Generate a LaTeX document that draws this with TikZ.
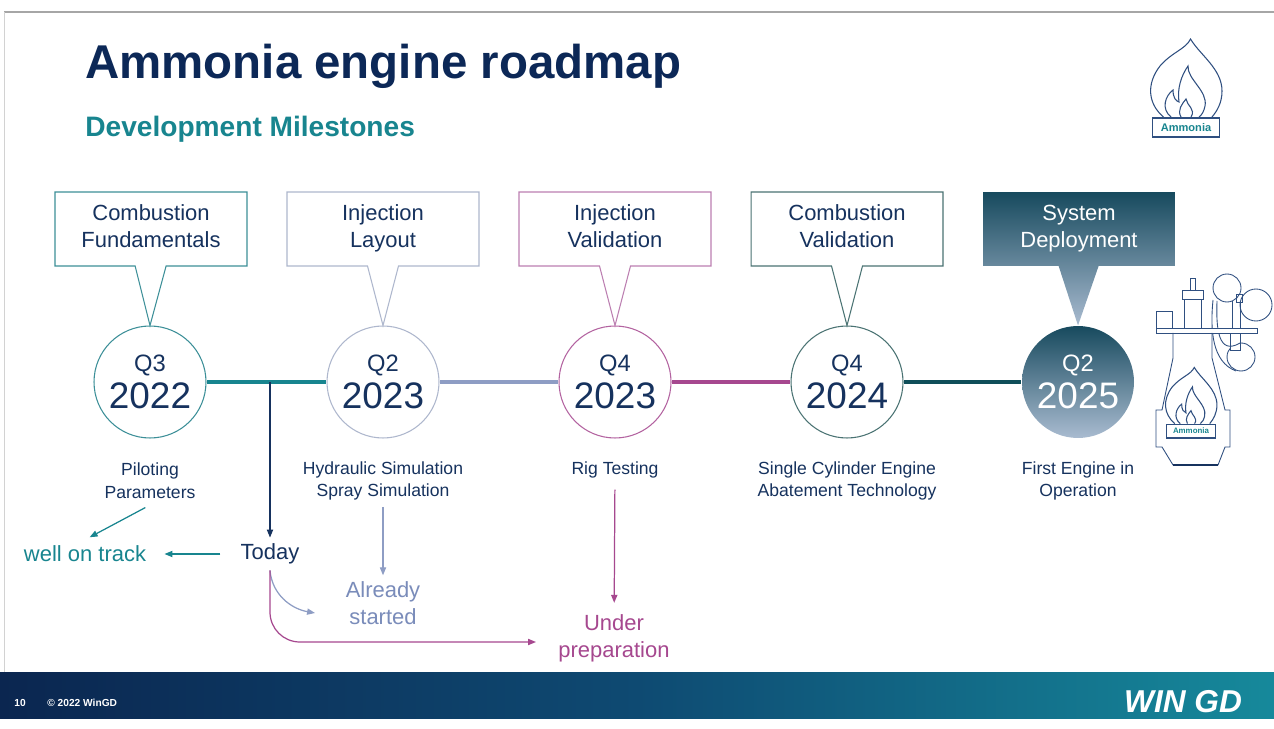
\documentclass[tikz,border=0pt]{standalone}
\usepackage{fontspec}
\setmainfont{Liberation Sans}
\usetikzlibrary{shapes.callouts,arrows.meta}

\definecolor{titleblue}{HTML}{0C2857}
\definecolor{navy}{HTML}{16325E}
\definecolor{petrol}{HTML}{18858F}
\definecolor{petrolbox}{HTML}{3C8F98}
\definecolor{slate}{HTML}{8E9DC4}
\definecolor{slatetext}{HTML}{7A8CBA}
\definecolor{slatebox}{HTML}{AEB7CD}
\definecolor{plum}{HTML}{A6488F}
\definecolor{plumbox}{HTML}{BC7FB1}
\definecolor{pine}{HTML}{0F4E59}
\definecolor{pinebox}{HTML}{4A7373}
\definecolor{deploytop}{HTML}{174A5E}
\definecolor{deploybot}{HTML}{A9BBD0}
\definecolor{footleft}{HTML}{0B2650}
\definecolor{footmid}{HTML}{0E4A72}
\definecolor{footright}{HTML}{16899B}
\definecolor{iconline}{HTML}{2F4F80}

% quarter over year, inside a milestone circle
\newcommand{\qyear}[2]{{\fontsize{13.5}{16}\selectfont #1}\\[2.5pt]{\fontsize{21}{21}\selectfont #2}}
% two lines of a phase box, same height whatever the letters
\newcommand{\phase}[2]{\strut#1\\#2\strut}

% flame over the name plate, origin at the bottom middle of the plate
\newcommand{\flamelogo}[2]{%
  \draw[logo] (-33.5,-19) rectangle (33.5,0);
  \node[text=petrol, font=\fontsize{#1}{#1}\selectfont\bfseries, inner sep=0pt] (#2) at (0,-9.5) {Ammonia};
  \draw[logo] (-22.5,-20) .. controls (-38,-33) and (-40,-53) .. (-26,-71)
    .. controls (-14,-85) and (0,-88) .. (4.5,-98)
    .. controls (14,-82) and (36,-68) .. (36,-46)
    .. controls (36,-34) and (31,-26) .. (26,-20);
  \draw[logo] (-15,-20) .. controls (-25,-28) and (-21,-41) .. (-13,-47)
    .. controls (-13,-39) and (-10,-36) .. (-7,-35)
    .. controls (-9,-48) and (-5,-61) .. (2,-71)
    .. controls (1,-58) and (22,-46) .. (19,-31)
    .. controls (18,-26) and (16,-22) .. (13,-20);
  \draw[logo] (-5,-20) .. controls (-9,-27) and (-4,-33) .. (0,-38)
    .. controls (1,-31) and (10,-28) .. (5,-20);
}

\tikzset{
  milestone/.style={circle, draw=#1, line width=0.6pt, minimum size=2.24cm, inner sep=0pt, align=center, text=navy},
  goal/.style={rectangle callout, draw=#1, line width=0.6pt, minimum width=3.84cm, minimum height=1.48cm,
    align=center, text=navy, font=\fontsize{12.5}{15.3}\selectfont, callout pointer width=0.62cm},
  task/.style={align=center, text=navy, font=\fontsize{10}{13}\selectfont},
  status/.style={align=center, text=#1, font=\fontsize{12.5}{15.3}\selectfont},
  arr/.style={-{Triangle[length=4.5pt,width=3.5pt]}, line width=0.7pt},
  logo/.style={draw=iconline, line width=0.6pt},
  icon/.style={draw=iconline, line width=0.5pt},
}

\begin{document}
\begin{tikzpicture}[x=0.02cm, y=-0.02cm]
  \useasboundingbox (0,0) rectangle (1274,729);
  \fill[white] (0,0) rectangle (1274,729);

  % slide frame and footer
  \draw[gray!70, line width=1.6pt] (4,12) -- (1274,12);
  \draw[gray!35, line width=0.5pt] (4,12) -- (4,672);
  \shade[left color=footleft, right color=footright, middle color=footmid] (0,672) rectangle (1274,718);
  \node[anchor=west, inner sep=0pt, text=white, font=\fontsize{5.8}{7}\selectfont\bfseries] (page) at (14,703) {10};
  \node[anchor=west, inner sep=0pt, text=white, font=\fontsize{5.8}{7}\selectfont\bfseries] (copy) at (47,703) {© 2022 WinGD};
  \node[text=white, font=\fontsize{18}{20}\selectfont\bfseries\itshape] (brand) at (1183,702) {WIN GD};

  % headings
  \node[anchor=base west, inner sep=0pt, text=titleblue, font=\fontsize{27}{30}\selectfont\bfseries] (title) at (85,79) {Ammonia engine roadmap};
  \node[anchor=base west, inner sep=0pt, text=petrol, font=\fontsize{16}{18}\selectfont\bfseries] (subtitle) at (85,137) {Development Milestones};

  % milestones
  \node[milestone=petrolbox] (c1) at (150,382) {\qyear{Q3}{2022}};
  \node[milestone=slatebox] (c2) at (383,382) {\qyear{Q2}{2023}};
  \node[milestone=plum!85] (c3) at (615,382) {\qyear{Q4}{2023}};
  \node[milestone=pinebox] (c4) at (847,382) {\qyear{Q4}{2024}};
  \node[milestone=none, top color=deploytop, bottom color=deploybot, text=white] (c5) at (1078,382) {\qyear{Q2}{2025}};

  \draw[petrol, line width=2.8pt] (c1) -- (c2);
  \draw[slate, line width=2.3pt] (c2) -- (c3);
  \draw[plum, line width=2.8pt] (c3) -- (c4);
  \draw[pine, line width=2pt] (c4) -- (c5);

  % phases
  \node[goal=petrolbox, callout absolute pointer=(c1.north)] (b1) at (151,229) {\phase{Combustion}{Fundamentals}};
  \node[goal=slatebox, callout absolute pointer=(c2.north)] (b2) at (383,229) {\phase{Injection}{Layout}};
  \node[goal=plumbox, callout absolute pointer=(c3.north)] (b3) at (615,229) {\phase{Injection}{Validation}};
  \node[goal=pinebox, callout absolute pointer=(c4.north)] (b4) at (847,229) {\phase{Combustion}{Validation}};
  \node[goal=none, top color=deploytop, bottom color=deploybot, text=white, callout pointer width=0.8cm,
    callout absolute pointer=(c5.north)] (b5) at (1079,229) {\phase{System}{Deployment}};

  % work items
  \node[task] (l1) at (150,481) {Piloting\\Parameters};
  \node[task] (l2) at (383,481) {Hydraulic Simulation\\Spray Simulation};
  \node[task] (l3) at (615,470) {Rig Testing};
  \node[task] (l4) at (847,481) {Single Cylinder Engine\\Abatement Technology};
  \node[task] (l5) at (1078,481) {First Engine in\\Operation};

  % progress
  \node[status=navy] (today) at (270,554) {Today};
  \node[status=petrol] (track) at (85,554) {well on track};
  \node[status=slatetext] (ready) at (383,603) {Already\\started};
  \node[status=plum] (prep) at (614,638) {Under\\preparation};
  \coordinate (ready-in) at (315,613);
  \coordinate (prep-in) at (536,642);

  \draw[arr, navy] (today |- c1) -- (today);
  \draw[arr, petrol, shorten <=8pt, shorten >=7pt] (today) -- (track);
  \draw[arr, petrol, shorten <=3pt, shorten >=3pt] (l1.south) -- (track.north);
  \draw[arr, slate] (l2) -- (ready);
  \draw[arr, plum, shorten <=3pt, shorten >=3pt] (l3) -- (prep);
  \draw[arr, slate] (today.south) to[out=-85, in=170] (ready-in);
  \draw[arr, plum, rounded corners=17pt] (today.south) |- (prep-in);

  % ammonia badge
  \begin{scope}[shift={(1186,137)}]
    \flamelogo{6.3}{badge}
  \end{scope}

  % engine
  \draw[icon] (1190,278) rectangle (1195,290);
  \draw[icon] (1182,290) rectangle (1203,299);
  \draw[icon] (1184,299) rectangle (1201,328);
  \draw[icon] (1156,311) rectangle (1172,328);
  \draw[icon] (1227,288) circle (14);
  \draw[icon] (1256,305) circle (16);
  \draw[icon] (1236,294) rectangle (1242,302);
  \draw[icon] (1241,357) circle (14);
  \draw[icon, fill=white] (1230,333) rectangle (1240,350);
  \draw[icon] (1232,301) -- (1232,333);
  \draw[icon] (1240,303) -- (1240,333);
  \draw[icon] (1213,300) .. controls (1210,330) and (1212,362) .. (1236,371);
  \draw[icon] (1217,301) .. controls (1216,328) and (1218,356) .. (1240,343);
  \draw[icon, fill=white] (1156,328) rectangle (1257,333);
  \draw[icon] (1173,333) -- (1173,358) -- (1162,410) -- (1156,410) -- (1156,447) -- (1162,447)
    -- (1173,465) -- (1218,465) -- (1225,447) -- (1230,447) -- (1230,410) -- (1225,410)
    -- (1212,358) -- (1212,333);
  \draw[navy, line width=1pt] (1173,465) -- (1218,465);
  \begin{scope}[shift={(1191,438)}, scale=0.72]
    \flamelogo{4.5}{plate}
  \end{scope}
\end{tikzpicture}
\end{document}
